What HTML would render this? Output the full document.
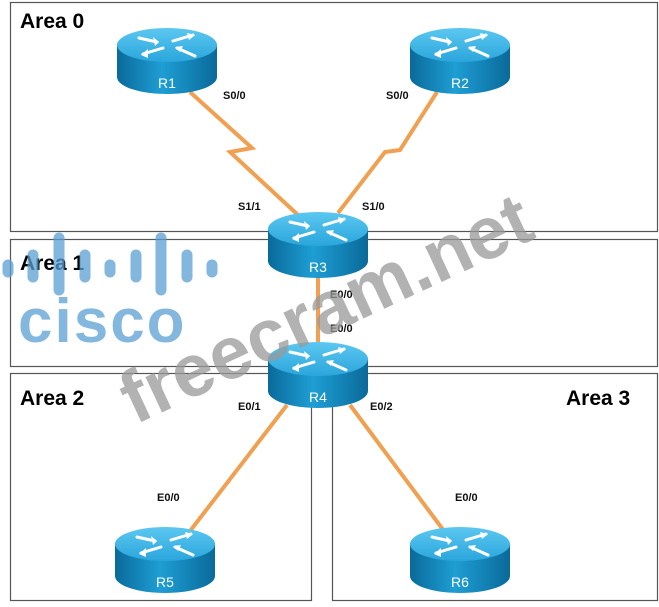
<!DOCTYPE html>
<html><head><meta charset="utf-8"><style>
html,body{margin:0;padding:0;background:#fff;}
body{width:659px;height:607px;overflow:hidden;position:relative;font-family:"Liberation Sans",Arial,sans-serif;}
</style></head><body>
<svg width="659" height="607" viewBox="0 0 659 607" xmlns="http://www.w3.org/2000/svg" style="position:absolute;left:0;top:0">
<defs>
<linearGradient id="body" x1="0" x2="1" y1="0" y2="0">
<stop offset="0" stop-color="#0a6a9a"/><stop offset="0.45" stop-color="#1e9ed4"/><stop offset="1" stop-color="#0a6a9a"/>
</linearGradient>
<linearGradient id="top" x1="0" x2="0" y1="0" y2="1">
<stop offset="0" stop-color="#5cc8f0"/><stop offset="1" stop-color="#2aa6dc"/>
</linearGradient>
<g id="router">
<path d="M-50,0 L-50,32 A50,17 0 0 0 50,32 L50,0 Z" fill="url(#body)"/>
<ellipse cx="0" cy="0" rx="50" ry="17" fill="url(#top)"/>
<g fill="none" stroke="#fff" stroke-width="3" stroke-linecap="round">
<path d="M-28,-7 L-10,-3"/><path d="M-4,3 L-24,9"/><path d="M6,-4 L26,-10"/><path d="M10,3 L28,11"/>
</g>
<g fill="#fff">
<path d="M-8,-3 L-14,-8 L-12,1 Z"/><path d="M-26,10 L-19,4 L-19,13 Z"/><path d="M28,-10 L20,-12 L22,-5 Z"/><path d="M8,2 L16,1 L13,7 Z"/>
</g>
</g>
</defs>
<g fill="none" stroke="#555" stroke-width="1.2">
<rect x="10.5" y="2.5" width="647" height="229"/>
<rect x="10.5" y="239.5" width="647" height="127"/>
<rect x="10.5" y="373.5" width="301" height="227"/>
<rect x="332.5" y="373.5" width="325" height="227"/>
</g>
<g font-weight="bold" font-size="21" fill="#000">
<text x="20" y="28">Area 0</text>
<text x="20" y="270">Area 1</text>
<text x="20" y="405">Area 2</text>
<text x="566" y="405">Area 3</text>
</g>
<g stroke="#f0a050" stroke-width="4" fill="none" stroke-linejoin="miter">
<polyline points="190,92 252,148 230,152 298,215"/>
<polyline points="437,92 400,150 385,152 338,213"/>
<line x1="318" y1="270" x2="318" y2="350"/>
<line x1="287" y1="405" x2="187" y2="535"/>
<line x1="350" y1="405" x2="447" y2="535"/>
</g>
<g font-weight="bold" font-size="11" fill="#111">
<text x="223" y="99">S0/0</text>
<text x="386" y="99">S0/0</text>
<text x="238" y="210">S1/1</text>
<text x="362" y="210">S1/0</text>
<text x="330" y="298">E0/0</text>
<text x="330" y="332">E0/0</text>
<text x="238" y="410">E0/1</text>
<text x="370" y="410">E0/2</text>
<text x="157" y="501">E0/0</text>
<text x="455" y="501">E0/0</text>
</g>
<use href="#router" x="167" y="45"/>
<use href="#router" x="460" y="45"/>
<use href="#router" x="318" y="229"/>
<use href="#router" x="318" y="359"/>
<use href="#router" x="165" y="544"/>
<use href="#router" x="460" y="544"/>
<g font-size="14" fill="#fff" text-anchor="middle">
<text x="167" y="88">R1</text>
<text x="460" y="88">R2</text>
<text x="318" y="272">R3</text>
<text x="318" y="402">R4</text>
<text x="165" y="587">R5</text>
<text x="460" y="587">R6</text>
</g>
<g opacity="0.75" stroke-linecap="round">
<g stroke="#5a9fd4" stroke-width="11">
<line x1="8" y1="265" x2="8" y2="272"/><line x1="33" y1="255" x2="33" y2="277"/><line x1="59" y1="238" x2="59" y2="290"/><line x1="85" y1="255" x2="85" y2="277"/><line x1="110" y1="265" x2="110" y2="272"/><line x1="136" y1="255" x2="136" y2="277"/><line x1="161" y1="238" x2="161" y2="290"/><line x1="187" y1="255" x2="187" y2="277"/><line x1="212" y1="265" x2="212" y2="272"/>
</g>
<text x="18" y="342" font-size="62" font-weight="bold" fill="#5a9fd4" letter-spacing="2">cisco</text>
</g>
<text x="0" y="0" font-size="74" font-weight="bold" fill="#999" opacity="0.75" transform="translate(135,425) rotate(-25)">freecram.net</text>
</svg>
</body></html>
